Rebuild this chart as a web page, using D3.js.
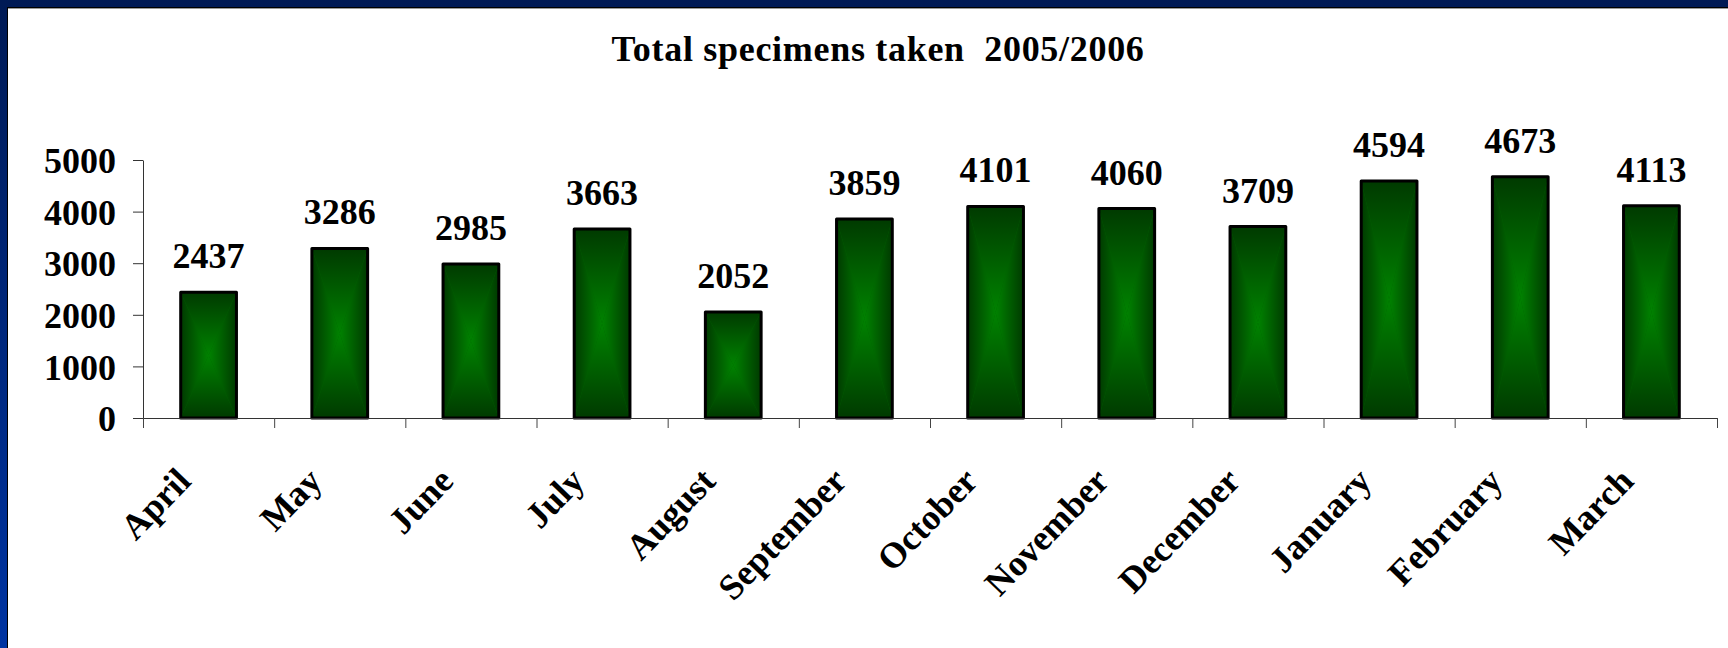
<!DOCTYPE html>
<html>
<head>
<meta charset="utf-8">
<script src="https://cdn.jsdelivr.net/npm/d3@7/dist/d3.min.js"></script>
<style>
  html, body { margin: 0; padding: 0; background: #fff; }
  svg { display: block; }
  text { font-family: "Liberation Serif", "Times New Roman", serif; font-weight: bold; fill: #000; }
</style>
</head>
<body>
<script>
// ---- data ----
const categories = ["April", "May", "June", "July", "August", "September", "October", "November", "December", "January", "February", "March"];
const values = [2437, 3286, 2985, 3663, 2052, 3859, 4101, 4060, 3709, 4594, 4673, 4113];
const yTicks = [0, 1000, 2000, 3000, 4000, 5000];
const chartTitle = "Total specimens taken  2005/2006";

// ---- layout ----
const W = 1728, H = 648;
const plot = { left: 143, right: 1717, top: 160, bottom: 418 };
const edgeColor = "#003a00", centerColor = "#008200";

const svg = d3.select("body").append("svg").attr("width", W).attr("height", H);
const defs = svg.append("defs");

const bg = defs.append("linearGradient").attr("id", "bg").attr("x1", 0).attr("y1", 0).attr("x2", 0).attr("y2", 1);
bg.append("stop").attr("offset", 0).attr("stop-color", "#001a55");
bg.append("stop").attr("offset", 1).attr("stop-color", "#0034a2");

function grad(id, x2, y2, c0, c1) {
  const g = defs.append("linearGradient").attr("id", id)
    .attr("x1", 0).attr("y1", 0).attr("x2", x2).attr("y2", y2);
  g.append("stop").attr("offset", 0).attr("stop-color", c0);
  g.append("stop").attr("offset", 1).attr("stop-color", c1);
}
grad("gTop", 0, 1, edgeColor, centerColor);
grad("gBottom", 0, 1, centerColor, edgeColor);
grad("gLeft", 1, 0, edgeColor, centerColor);
grad("gRight", 1, 0, centerColor, edgeColor);

// background frame
svg.append("rect").attr("width", W).attr("height", H).attr("fill", "url(#bg)");
svg.append("rect").attr("x", 8).attr("y", 8).attr("width", W - 8).attr("height", H - 8).attr("fill", "#fff");
svg.append("line").attr("x1", 7).attr("x2", W).attr("y1", 7.5).attr("y2", 7.5).attr("stroke", "#000").attr("stroke-width", 1);
svg.append("line").attr("x1", 7.5).attr("x2", 7.5).attr("y1", 7).attr("y2", H).attr("stroke", "#000").attr("stroke-width", 1);
svg.append("line").attr("x1", 8).attr("x2", W).attr("y1", 8.5).attr("y2", 8.5).attr("stroke", "#999").attr("stroke-width", 1);

// scales
const nCat = categories.length;
const pad = 0.575;
const x = d3.scaleBand().domain(categories).range([plot.left, plot.right]).paddingInner(pad).paddingOuter(pad / 2);
const y = d3.scaleLinear().domain([0, 5000]).range([plot.bottom, plot.top]);
const xb = d3.scaleLinear().domain([0, nCat]).range([plot.left, plot.right]);

// title
svg.append("text").attr("x", 878).attr("y", 61).attr("text-anchor", "middle")
  .style("font-size", "36px").style("letter-spacing", "0.7px").style("white-space", "pre").text(chartTitle);

// y axis
const yAxis = svg.append("g").attr("transform", `translate(${plot.left},0)`)
  .call(d3.axisLeft(y).tickValues(yTicks).tickFormat(d3.format("d")).tickSize(10).tickSizeOuter(0).tickPadding(17));
yAxis.select(".domain").attr("stroke", "#333");
yAxis.selectAll(".tick line").attr("stroke", "#333");
yAxis.selectAll(".tick text").style("font-size", "36px").style("font-family", "'Liberation Serif', serif").style("font-weight", "bold").attr("fill", "#000").attr("dy", "0.35em");

// bars
const bw = x.bandwidth();
const bars = svg.append("g").selectAll("g").data(categories.map((c, i) => ({ c, v: values[i] }))).join("g");
bars.each(function (d) {
  const g = d3.select(this);
  const x0 = x(d.c), x1 = x0 + bw, yt = y(d.v), yb = y(0);
  const cx = (x0 + x1) / 2, cy = (yt + yb) / 2;
  g.append("rect").attr("x", x0).attr("y", yt).attr("width", bw).attr("height", yb - yt).attr("fill", "#006000");
  g.append("path").attr("d", `M${x0},${yt}L${x1},${yt}L${cx},${cy}Z`).attr("fill", "url(#gTop)");
  g.append("path").attr("d", `M${x0},${yb}L${x1},${yb}L${cx},${cy}Z`).attr("fill", "url(#gBottom)");
  g.append("path").attr("d", `M${x0},${yt}L${x0},${yb}L${cx},${cy}Z`).attr("fill", "url(#gLeft)");
  g.append("path").attr("d", `M${x1},${yt}L${x1},${yb}L${cx},${cy}Z`).attr("fill", "url(#gRight)");
  g.append("rect").attr("x", x0).attr("y", yt).attr("width", bw).attr("height", yb - yt)
    .attr("fill", "none").attr("stroke", "#000").attr("stroke-width", 3).attr("stroke-linejoin", "round");
  g.append("text").attr("x", cx).attr("y", yt - 24).attr("text-anchor", "middle")
    .style("font-size", "36px").text(d.v);
});

// x axis
const xAxis = svg.append("g").attr("transform", `translate(0,${plot.bottom})`)
  .call(d3.axisBottom(xb).tickValues(d3.range(nCat + 1)).tickFormat("").tickSize(10).tickSizeOuter(0));
xAxis.select(".domain").attr("stroke", "#333");
xAxis.selectAll(".tick line").attr("stroke", "#444");

// category labels
svg.append("g").selectAll("text").data(categories).join("text")
  .attr("text-anchor", "end")
  .attr("dy", "0.35em")
  .attr("transform", d => `translate(${x(d) + bw / 2 - 25},${plot.bottom + 56}) rotate(-46)`)
  .style("font-size", "36px")
  .text(d => d);
</script>
</body>
</html>
